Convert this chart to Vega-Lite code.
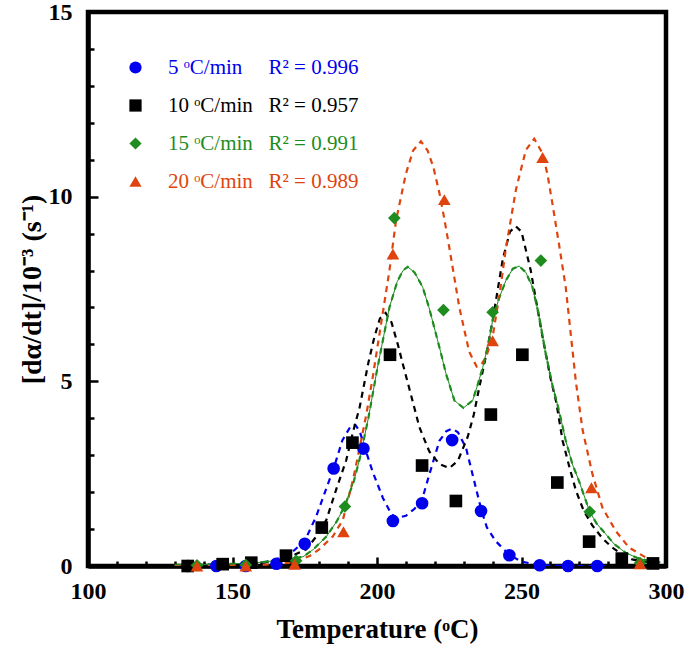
{
  "$schema": "https://vega.github.io/schema/vega-lite/v6.json",
  "width": 578,
  "height": 554,
  "autosize": {"type": "none"},
  "padding": {"left": 88, "top": 12, "right": 19, "bottom": 81},
  "background": "white",
  "config": {
    "font": "Liberation Serif",
    "view": {"stroke": "black", "strokeWidth": 4.5},
    "axis": {
      "grid": false,
      "domainColor": "black",
      "domainWidth": 4.5,
      "tickColor": "black",
      "tickWidth": 2.5,
      "labelColor": "black",
      "labelFont": "Liberation Serif",
      "labelFontSize": 24,
      "labelFontWeight": "bold",
      "labelFlush": false,
      "labelOverlap": false,
      "titleColor": "black",
      "titleFont": "Liberation Serif",
      "titleFontSize": 27,
      "titleFontWeight": "bold"
    },
    "legend": {
      "orient": "none",
      "legendX": 37,
      "legendY": 45,
      "padding": 0,
      "rowPadding": 16,
      "symbolSize": 150,
      "symbolStrokeWidth": 0,
      "labelOffset": 22,
      "labelLimit": 400,
      "labelFont": "Liberation Serif",
      "labelFontSize": 21
    }
  },
  "datasets": {
    "points": [
      {"series": "5", "T": 134.5, "v": 0},
      {"series": "5", "T": 144.4, "v": 0},
      {"series": "5", "T": 154.6, "v": 0},
      {"series": "5", "T": 165.2, "v": 0.06},
      {"series": "5", "T": 175.0, "v": 0.6},
      {"series": "5", "T": 185.0, "v": 2.64},
      {"series": "5", "T": 195.3, "v": 3.18},
      {"series": "5", "T": 205.5, "v": 1.22},
      {"series": "5", "T": 215.6, "v": 1.7},
      {"series": "5", "T": 226.0, "v": 3.41},
      {"series": "5", "T": 236.0, "v": 1.49},
      {"series": "5", "T": 245.8, "v": 0.29},
      {"series": "5", "T": 256.3, "v": 0.02},
      {"series": "5", "T": 266.1, "v": 0},
      {"series": "5", "T": 276.2, "v": 0},
      {"series": "10", "T": 134.5, "v": 0},
      {"series": "10", "T": 146.6, "v": 0.05},
      {"series": "10", "T": 156.5, "v": 0.09},
      {"series": "10", "T": 168.5, "v": 0.28},
      {"series": "10", "T": 180.9, "v": 1.04},
      {"series": "10", "T": 191.5, "v": 3.34},
      {"series": "10", "T": 204.5, "v": 5.72},
      {"series": "10", "T": 215.6, "v": 2.72},
      {"series": "10", "T": 227.3, "v": 1.76},
      {"series": "10", "T": 239.4, "v": 4.1},
      {"series": "10", "T": 250.3, "v": 5.72},
      {"series": "10", "T": 262.4, "v": 2.26},
      {"series": "10", "T": 273.4, "v": 0.66},
      {"series": "10", "T": 284.7, "v": 0.2},
      {"series": "10", "T": 295.5, "v": 0.07},
      {"series": "15", "T": 137.7, "v": 0.02},
      {"series": "15", "T": 154.6, "v": 0.03},
      {"series": "15", "T": 172.0, "v": 0.14},
      {"series": "15", "T": 188.9, "v": 1.61},
      {"series": "15", "T": 206.0, "v": 9.42},
      {"series": "15", "T": 223.0, "v": 6.93},
      {"series": "15", "T": 240.0, "v": 6.87},
      {"series": "15", "T": 256.7, "v": 8.27},
      {"series": "15", "T": 273.6, "v": 1.47},
      {"series": "15", "T": 291.0, "v": 0.08},
      {"series": "20", "T": 137.7, "v": 0},
      {"series": "20", "T": 154.6, "v": 0},
      {"series": "20", "T": 171.5, "v": 0.05},
      {"series": "20", "T": 188.4, "v": 0.93},
      {"series": "20", "T": 205.5, "v": 8.45},
      {"series": "20", "T": 223.3, "v": 9.92},
      {"series": "20", "T": 240.0, "v": 6.1},
      {"series": "20", "T": 257.3, "v": 11.06},
      {"series": "20", "T": 274.2, "v": 2.12},
      {"series": "20", "T": 291.0, "v": 0.06}
    ],
    "fits": [
      {"series": "5", "T": 130, "v": 0},
      {"series": "5", "T": 140, "v": 0},
      {"series": "5", "T": 150, "v": 0.01},
      {"series": "5", "T": 155, "v": 0.03},
      {"series": "5", "T": 160, "v": 0.08},
      {"series": "5", "T": 165, "v": 0.18},
      {"series": "5", "T": 170, "v": 0.33},
      {"series": "5", "T": 175, "v": 0.68},
      {"series": "5", "T": 179, "v": 1.35},
      {"series": "5", "T": 182, "v": 2.0},
      {"series": "5", "T": 185, "v": 2.64},
      {"series": "5", "T": 188, "v": 3.4},
      {"series": "5", "T": 191, "v": 3.8},
      {"series": "5", "T": 192.5, "v": 3.82},
      {"series": "5", "T": 194, "v": 3.65},
      {"series": "5", "T": 196, "v": 3.15},
      {"series": "5", "T": 198.5, "v": 2.55},
      {"series": "5", "T": 202, "v": 1.85},
      {"series": "5", "T": 205, "v": 1.4},
      {"series": "5", "T": 207, "v": 1.3},
      {"series": "5", "T": 210, "v": 1.36},
      {"series": "5", "T": 213, "v": 1.55},
      {"series": "5", "T": 215.6, "v": 1.8},
      {"series": "5", "T": 218, "v": 2.45},
      {"series": "5", "T": 221.6, "v": 3.39},
      {"series": "5", "T": 224, "v": 3.65},
      {"series": "5", "T": 226, "v": 3.72},
      {"series": "5", "T": 228, "v": 3.62},
      {"series": "5", "T": 230.8, "v": 3.2},
      {"series": "5", "T": 233, "v": 2.5},
      {"series": "5", "T": 236, "v": 1.55},
      {"series": "5", "T": 238, "v": 1.05},
      {"series": "5", "T": 241, "v": 0.68},
      {"series": "5", "T": 245.8, "v": 0.3},
      {"series": "5", "T": 250, "v": 0.12},
      {"series": "5", "T": 255, "v": 0.04},
      {"series": "5", "T": 260, "v": 0.01},
      {"series": "5", "T": 270, "v": 0},
      {"series": "5", "T": 280, "v": 0},
      {"series": "10", "T": 130, "v": 0},
      {"series": "10", "T": 150, "v": 0.02},
      {"series": "10", "T": 160, "v": 0.08},
      {"series": "10", "T": 165, "v": 0.15},
      {"series": "10", "T": 170, "v": 0.25},
      {"series": "10", "T": 175.5, "v": 0.45},
      {"series": "10", "T": 179, "v": 0.8},
      {"series": "10", "T": 182.5, "v": 1.25},
      {"series": "10", "T": 186, "v": 2.1},
      {"series": "10", "T": 189.3, "v": 2.85},
      {"series": "10", "T": 191.6, "v": 3.6},
      {"series": "10", "T": 194, "v": 4.3},
      {"series": "10", "T": 197, "v": 5.5},
      {"series": "10", "T": 199.1, "v": 6.2},
      {"series": "10", "T": 201, "v": 6.7},
      {"series": "10", "T": 203, "v": 6.85},
      {"series": "10", "T": 205, "v": 6.6},
      {"series": "10", "T": 207.2, "v": 6.0},
      {"series": "10", "T": 209, "v": 5.45},
      {"series": "10", "T": 211.2, "v": 4.8},
      {"series": "10", "T": 214.7, "v": 3.75},
      {"series": "10", "T": 218.1, "v": 3.1},
      {"series": "10", "T": 221.6, "v": 2.76},
      {"series": "10", "T": 225, "v": 2.65},
      {"series": "10", "T": 228, "v": 2.85},
      {"series": "10", "T": 231.4, "v": 3.5},
      {"series": "10", "T": 233.5, "v": 4.1},
      {"series": "10", "T": 235.4, "v": 4.84},
      {"series": "10", "T": 238, "v": 5.8},
      {"series": "10", "T": 240, "v": 6.64},
      {"series": "10", "T": 243.5, "v": 8.3},
      {"series": "10", "T": 246, "v": 9.05},
      {"series": "10", "T": 248, "v": 9.2},
      {"series": "10", "T": 250, "v": 9.05},
      {"series": "10", "T": 253.2, "v": 8.0},
      {"series": "10", "T": 255, "v": 7.2},
      {"series": "10", "T": 257.3, "v": 6.2},
      {"series": "10", "T": 260, "v": 5.1},
      {"series": "10", "T": 262, "v": 4.45},
      {"series": "10", "T": 264.2, "v": 3.4},
      {"series": "10", "T": 266.5, "v": 2.7},
      {"series": "10", "T": 268.8, "v": 2.05},
      {"series": "10", "T": 271.5, "v": 1.5},
      {"series": "10", "T": 274.5, "v": 1.1},
      {"series": "10", "T": 278, "v": 0.75},
      {"series": "10", "T": 281.4, "v": 0.5},
      {"series": "10", "T": 285, "v": 0.3},
      {"series": "10", "T": 288.3, "v": 0.18},
      {"series": "10", "T": 292, "v": 0.12},
      {"series": "10", "T": 296, "v": 0.1},
      {"series": "15", "T": 130, "v": 0.03},
      {"series": "15", "T": 140, "v": 0.04},
      {"series": "15", "T": 150, "v": 0.06},
      {"series": "15", "T": 160, "v": 0.1},
      {"series": "15", "T": 165, "v": 0.15},
      {"series": "15", "T": 170, "v": 0.2},
      {"series": "15", "T": 174.4, "v": 0.25},
      {"series": "15", "T": 178, "v": 0.45},
      {"series": "15", "T": 182.5, "v": 0.8},
      {"series": "15", "T": 186, "v": 1.2},
      {"series": "15", "T": 189, "v": 1.65},
      {"series": "15", "T": 192, "v": 2.3},
      {"series": "15", "T": 194, "v": 2.9},
      {"series": "15", "T": 197, "v": 4.0},
      {"series": "15", "T": 200, "v": 5.3},
      {"series": "15", "T": 202, "v": 6.1},
      {"series": "15", "T": 204.3, "v": 7.0},
      {"series": "15", "T": 207, "v": 7.7},
      {"series": "15", "T": 209, "v": 8.0},
      {"series": "15", "T": 210.6, "v": 8.1},
      {"series": "15", "T": 213, "v": 7.95},
      {"series": "15", "T": 215.8, "v": 7.55},
      {"series": "15", "T": 218, "v": 7.0},
      {"series": "15", "T": 220.4, "v": 6.28},
      {"series": "15", "T": 222, "v": 5.8},
      {"series": "15", "T": 223.9, "v": 5.2},
      {"series": "15", "T": 226.8, "v": 4.48},
      {"series": "15", "T": 229.9, "v": 4.28},
      {"series": "15", "T": 233.1, "v": 4.48},
      {"series": "15", "T": 234.8, "v": 4.9},
      {"series": "15", "T": 236.6, "v": 5.38},
      {"series": "15", "T": 238.5, "v": 6.0},
      {"series": "15", "T": 240, "v": 6.64},
      {"series": "15", "T": 242, "v": 7.2},
      {"series": "15", "T": 244.6, "v": 7.73},
      {"series": "15", "T": 247, "v": 8.05},
      {"series": "15", "T": 249.2, "v": 8.12},
      {"series": "15", "T": 251.5, "v": 7.95},
      {"series": "15", "T": 253.8, "v": 7.55},
      {"series": "15", "T": 256, "v": 6.8},
      {"series": "15", "T": 258.4, "v": 5.74},
      {"series": "15", "T": 260.7, "v": 4.9},
      {"series": "15", "T": 263, "v": 4.2},
      {"series": "15", "T": 265.3, "v": 3.4},
      {"series": "15", "T": 267.6, "v": 2.76},
      {"series": "15", "T": 269.9, "v": 2.3},
      {"series": "15", "T": 273.6, "v": 1.47},
      {"series": "15", "T": 276, "v": 1.15},
      {"series": "15", "T": 279.2, "v": 0.86},
      {"series": "15", "T": 282, "v": 0.6},
      {"series": "15", "T": 286, "v": 0.36},
      {"series": "15", "T": 290, "v": 0.22},
      {"series": "15", "T": 294, "v": 0.14},
      {"series": "15", "T": 298, "v": 0.1},
      {"series": "20", "T": 130, "v": 0},
      {"series": "20", "T": 150, "v": 0.01},
      {"series": "20", "T": 160, "v": 0.03},
      {"series": "20", "T": 165, "v": 0.05},
      {"series": "20", "T": 171, "v": 0.1},
      {"series": "20", "T": 176.7, "v": 0.27},
      {"series": "20", "T": 180, "v": 0.45},
      {"series": "20", "T": 184.7, "v": 0.8},
      {"series": "20", "T": 188.2, "v": 1.25},
      {"series": "20", "T": 191.6, "v": 2.3},
      {"series": "20", "T": 194, "v": 3.2},
      {"series": "20", "T": 196.3, "v": 4.1},
      {"series": "20", "T": 198.5, "v": 5.1},
      {"series": "20", "T": 200.9, "v": 6.3},
      {"series": "20", "T": 204.3, "v": 8.0},
      {"series": "20", "T": 206.6, "v": 9.36},
      {"series": "20", "T": 210, "v": 10.62},
      {"series": "20", "T": 212.5, "v": 11.25},
      {"series": "20", "T": 215.2, "v": 11.5},
      {"series": "20", "T": 217.5, "v": 11.25},
      {"series": "20", "T": 219.5, "v": 10.8},
      {"series": "20", "T": 221.6, "v": 10.1},
      {"series": "20", "T": 223.3, "v": 9.4},
      {"series": "20", "T": 225, "v": 8.63},
      {"series": "20", "T": 228.5, "v": 7.0},
      {"series": "20", "T": 231.9, "v": 5.8},
      {"series": "20", "T": 234.5, "v": 5.4},
      {"series": "20", "T": 236, "v": 5.45},
      {"series": "20", "T": 237.7, "v": 5.65},
      {"series": "20", "T": 240, "v": 6.2},
      {"series": "20", "T": 242.5, "v": 7.4},
      {"series": "20", "T": 244.6, "v": 8.6},
      {"series": "20", "T": 248.1, "v": 10.2},
      {"series": "20", "T": 251.5, "v": 11.26},
      {"series": "20", "T": 254.4, "v": 11.57},
      {"series": "20", "T": 257.3, "v": 11.17},
      {"series": "20", "T": 259, "v": 10.6},
      {"series": "20", "T": 260.7, "v": 9.81},
      {"series": "20", "T": 263, "v": 8.7},
      {"series": "20", "T": 265.3, "v": 7.55},
      {"series": "20", "T": 268.8, "v": 5.0},
      {"series": "20", "T": 271.1, "v": 3.7},
      {"series": "20", "T": 274.5, "v": 2.5},
      {"series": "20", "T": 278, "v": 1.58},
      {"series": "20", "T": 282.6, "v": 0.95},
      {"series": "20", "T": 287.2, "v": 0.5},
      {"series": "20", "T": 293, "v": 0.23},
      {"series": "20", "T": 298, "v": 0.12}
    ]
  },
  "encoding": {
    "x": {
      "field": "T",
      "type": "quantitative",
      "scale": {"domain": [100, 300], "nice": false, "zero": false},
      "axis": {
        "title": "Temperature (ᵒC)",
        "format": "d",
        "values": [100, 110, 120, 130, 140, 150, 160, 170, 180, 190, 200, 210, 220, 230, 240, 250, 260, 270, 280, 290, 300],
        "labelExpr": "datum.value % 50 === 0 ? datum.label : ''",
        "tickSize": {"condition": {"test": "datum.value % 50 === 0", "value": -9}, "value": -5},
        "labelPadding": 22,
        "titlePadding": 9
      }
    },
    "y": {
      "field": "v",
      "type": "quantitative",
      "scale": {"domain": [0, 15], "nice": false, "zero": false},
      "axis": {
        "title": "[dα/dt]/10⁻³ (s⁻¹)",
        "titleFontSize": 28,
        "format": "d",
        "values": [0, 0.5, 1, 1.5, 2, 2.5, 3, 3.5, 4, 4.5, 5, 5.5, 6, 6.5, 7, 7.5, 8, 8.5, 9, 9.5, 10, 10.5, 11, 11.5, 12, 12.5, 13, 13.5, 14, 14.5, 15],
        "labelExpr": "datum.value % 5 === 0 ? datum.label : ''",
        "tickSize": {"condition": {"test": "datum.value % 5 === 0", "value": -10}, "value": -6},
        "labelPadding": 26,
        "titlePadding": 2
      }
    }
  },
  "layer": [
    {
      "data": {"name": "fits"},
      "mark": {"type": "line", "strokeWidth": 2.2, "strokeDash": [6, 5], "clip": true},
      "encoding": {
        "stroke": {
          "field": "series",
          "type": "nominal",
          "scale": {"domain": ["20", "15", "10", "5"], "range": ["#e0440e", "#1e8c1e", "#000000", "#0000ee"]},
          "legend": null
        },
        "order": {"field": "T", "type": "quantitative"}
      }
    },
    {
      "data": {"name": "fits"},
      "transform": [{"filter": "datum.series === '15'"}],
      "mark": {"type": "line", "strokeWidth": 1, "color": "#1e8c1e"},
      "encoding": {"order": {"field": "T", "type": "quantitative"}}
    },
    {
      "data": {"name": "points"},
      "mark": {"type": "point", "filled": true, "opacity": 1, "size": 160},
      "encoding": {
        "color": {
          "field": "series",
          "type": "nominal",
          "scale": {"domain": ["5", "10", "15", "20"], "range": ["#0000ee", "#000000", "#1e8c1e", "#e0440e"]},
          "legend": {
            "title": null,
            "labelColor": {"expr": "datum.value === '5' ? '#0000ee' : datum.value === '10' ? '#000000' : datum.value === '15' ? '#1e8c1e' : '#e0440e'"},
            "labelExpr": "datum.label === '5' ? '5 ᵒC/min\u00a0\u00a0\u00a0\u00a0\u00a0R² = 0.996' : datum.label === '10' ? '10 ᵒC/min\u00a0\u00a0\u00a0R² = 0.957' : datum.label === '15' ? '15 ᵒC/min\u00a0\u00a0\u00a0R² = 0.991' : '20 ᵒC/min\u00a0\u00a0\u00a0R² = 0.989'"
          }
        },
        "shape": {
          "field": "series",
          "type": "nominal",
          "scale": {"domain": ["5", "10", "15", "20"], "range": ["circle", "square", "diamond", "triangle-up"]},
          "legend": {
            "title": null,
            "labelColor": {"expr": "datum.value === '5' ? '#0000ee' : datum.value === '10' ? '#000000' : datum.value === '15' ? '#1e8c1e' : '#e0440e'"},
            "labelExpr": "datum.label === '5' ? '5 ᵒC/min\u00a0\u00a0\u00a0\u00a0\u00a0R² = 0.996' : datum.label === '10' ? '10 ᵒC/min\u00a0\u00a0\u00a0R² = 0.957' : datum.label === '15' ? '15 ᵒC/min\u00a0\u00a0\u00a0R² = 0.991' : '20 ᵒC/min\u00a0\u00a0\u00a0R² = 0.989'"
          }
        }
      }
    }
  ]
}
